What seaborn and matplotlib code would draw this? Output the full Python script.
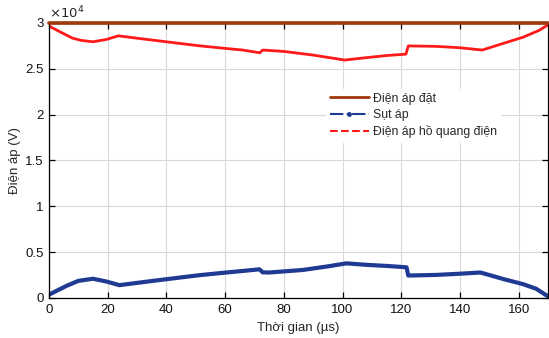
import numpy as np
import pandas as pd
import matplotlib
matplotlib.use("Agg")
import matplotlib.pyplot as plt
from matplotlib.lines import Line2D
from matplotlib.ticker import FuncFormatter
import seaborn as sns

# ---- data ----
t_set = [0, 170]
v_set = [30000, 30000]

t_drop = [0, 3, 6, 10, 15, 19.5, 24, 31, 40, 51, 60, 66, 71.7, 72.8, 75, 86.5, 95, 101.3, 109, 115, 121.8, 122.4, 132, 140, 147, 155, 161.5, 166, 170]
v_drop = [360, 850, 1330, 1870, 2100, 1800, 1400, 1690, 2050, 2480, 2770, 2950, 3130, 2800, 2780, 3060, 3450, 3780, 3600, 3500, 3350, 2450, 2520, 2650, 2780, 2050, 1510, 1000, 180]

t_arc = [0, 1, 4, 8, 11, 15, 19.5, 23.6, 31, 40, 51, 60, 66, 71.8, 72.8, 80, 90, 100.7, 109, 115, 121.6, 122.4, 132, 140, 147.6, 155, 161.5, 167, 170]
v_arc = [29700, 29500, 29000, 28350, 28100, 27950, 28200, 28600, 28300, 27950, 27520, 27230, 27050, 26750, 27050, 26900, 26500, 25960, 26250, 26450, 26600, 27500, 27450, 27300, 27050, 27800, 28450, 29200, 29800]

x_ticks = [0, 20, 40, 60, 80, 100, 120, 140, 160]
y_ticks = [0, 5000, 10000, 15000, 20000, 25000, 30000]
labels = ["Điện áp đặt", "Sụt áp", "Điện áp hồ quang điện"]

sns.set_style("ticks")
plt.rcParams['font.family'] = ['Liberation Sans', 'DejaVu Sans']
plt.rcParams.update({
    'xtick.direction': 'in', 'ytick.direction': 'in',
    'xtick.top': True, 'ytick.right': True,
    'xtick.bottom': True, 'ytick.left': True,
    'xtick.major.size': 4.5, 'ytick.major.size': 4.5,
    'xtick.major.width': 0.9, 'ytick.major.width': 0.9,
    'xtick.color': 'black', 'ytick.color': 'black',
    'axes.edgecolor': 'black', 'axes.linewidth': 0.9,
})

c_set = "#A0380C"
c_drop = "#1F3A93"
c_arc = "#FF1A1A"

fig = plt.figure(figsize=(5.49, 3.38), dpi=100)
ax = fig.add_axes([49/549, 1-298/338, 499/549, 275/338])

df_set = pd.DataFrame({"t": t_set, "v": v_set})
df_drop = pd.DataFrame({"t": t_drop, "v": v_drop})
df_arc = pd.DataFrame({"t": t_arc, "v": v_arc})

sns.lineplot(data=df_set, x="t", y="v", ax=ax, color=c_set, lw=2.6, legend=False, clip_on=False, zorder=5)
sns.lineplot(data=df_drop, x="t", y="v", ax=ax, color=c_drop, lw=3.0, legend=False)
sns.lineplot(data=df_arc, x="t", y="v", ax=ax, color=c_arc, lw=2.0, legend=False)

ax.set_xlim(0, 170)
ax.set_ylim(0, 30000)
ax.set_xticks(x_ticks)
ax.set_yticks(y_ticks)
ax.yaxis.set_major_formatter(FuncFormatter(lambda v, p: f"{v/1e4:g}"))
ax.tick_params(axis='both', which='major', labelsize=9.5, pad=4,
               labelcolor='#111111')
ax.grid(True, color='#d9d9d9', lw=0.8)
ax.set_axisbelow(True)
for s in ax.spines.values():
    s.set_visible(True)
    s.set_color('black')
    s.set_linewidth(0.9)

ax.set_xlabel("Thời gian (µs)", fontsize=9.5, labelpad=4.5)
ax.set_ylabel("Điện áp (V)", fontsize=9.5, labelpad=3)
ax.text(0.0, 1.005, r"$\times10^{4}$", transform=ax.transAxes, fontsize=9.5,
        ha='left', va='bottom')

handles = [
    Line2D([0], [0], color=c_set, lw=2),
    Line2D([0], [0], color=c_drop, lw=1.5, ls='-.', marker='.', markersize=5),
    Line2D([0], [0], color=c_arc, lw=1.5, ls='--'),
]
ax.legend(handles, labels, loc='upper left', bbox_to_anchor=(0.543, 0.782),
          frameon=True, facecolor='white', edgecolor='white', framealpha=1,
          fontsize=8.8, handlelength=3.2, handletextpad=0.3, borderpad=0.3,
          labelspacing=0.35)

fig.savefig("out.png", dpi=100)
